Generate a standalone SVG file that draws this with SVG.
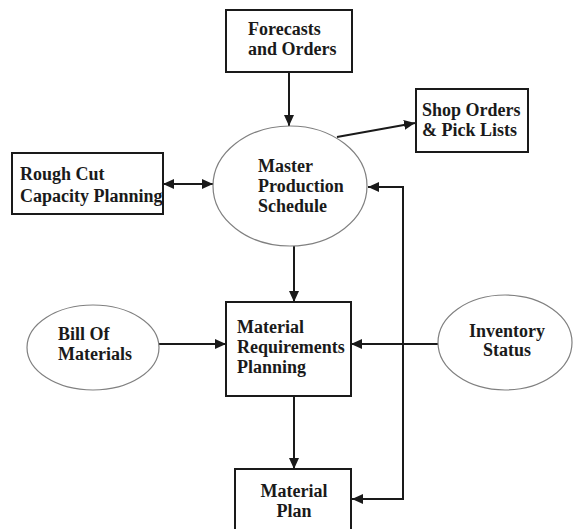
<svg xmlns="http://www.w3.org/2000/svg" width="573" height="529" viewBox="0 0 573 529">
<style>
.box{fill:#fff;stroke:#1a1a1a;stroke-width:2}
.ell{fill:#fff;stroke:#808080;stroke-width:1.2}
.t{font-family:"Liberation Serif","Times New Roman",serif;font-weight:bold;font-size:18px;fill:#1a1a1a}
.c{text-anchor:middle}
.ln{fill:none;stroke:#1a1a1a;stroke-width:2}
</style>
<defs>
<marker id="ah" markerUnits="userSpaceOnUse" markerWidth="12" markerHeight="12" refX="11" refY="6" orient="auto-start-reverse" viewBox="0 0 12 12">
<path d="M0,1 L11,6 L0,11 z" fill="#1a1a1a"/>
</marker>
</defs>
<rect width="573" height="529" fill="#fff"/>
<g id="connectors">
<path class="ln" d="M289,72 L289,126" marker-end="url(#ah)"/>
<path class="ln" d="M337,137 L415,123" marker-end="url(#ah)"/>
<path class="ln" d="M163,184 L213,184" marker-start="url(#ah)" marker-end="url(#ah)"/>
<path class="ln" d="M368,187 L403,187 L403,499 L352,499" marker-start="url(#ah)" marker-end="url(#ah)"/>
<path class="ln" d="M294,246 L294,302" marker-end="url(#ah)"/>
<path class="ln" d="M294,396 L294,469" marker-end="url(#ah)"/>
<path class="ln" d="M159,344 L226,344" marker-end="url(#ah)"/>
<path class="ln" d="M438,344 L351,344" marker-end="url(#ah)"/>
</g>
<g id="forecasts">
<rect class="box" x="226" y="10" width="126" height="62"/>
<text class="t" x="248" y="35">Forecasts</text>
<text class="t" x="248" y="55">and Orders</text>
</g>
<g id="mps">
<ellipse class="ell" cx="290" cy="186" rx="77" ry="60"/>
<text class="t" x="258" y="172">Master</text>
<text class="t" x="258" y="192">Production</text>
<text class="t" x="258" y="212">Schedule</text>
</g>
<g id="shop">
<rect class="box" x="416" y="89" width="112" height="63"/>
<text class="t" x="422" y="116">Shop Orders</text>
<text class="t" x="422" y="136">&amp; Pick Lists</text>
</g>
<g id="rough">
<rect class="box" x="12" y="153" width="151" height="61"/>
<text class="t" x="20" y="180">Rough Cut</text>
<text class="t" x="20" y="202">Capacity Planning</text>
</g>
<g id="bom">
<ellipse class="ell" cx="93" cy="347.5" rx="66" ry="42.5"/>
<text class="t" x="58" y="340">Bill Of</text>
<text class="t" x="58" y="360">Materials</text>
</g>
<g id="mrp">
<rect class="box" x="226" y="302" width="125" height="94"/>
<text class="t" x="237" y="333">Material</text>
<text class="t" x="237" y="353">Requirements</text>
<text class="t" x="237" y="373">Planning</text>
</g>
<g id="inventory">
<ellipse class="ell" cx="505" cy="342.5" rx="67" ry="47.5"/>
<text class="t c" x="507" y="337">Inventory</text>
<text class="t c" x="507" y="356">Status</text>
</g>
<g id="plan">
<rect class="box" x="235" y="469" width="116" height="70"/>
<text class="t c" x="294" y="497">Material</text>
<text class="t c" x="294" y="517">Plan</text>
</g>
</svg>
